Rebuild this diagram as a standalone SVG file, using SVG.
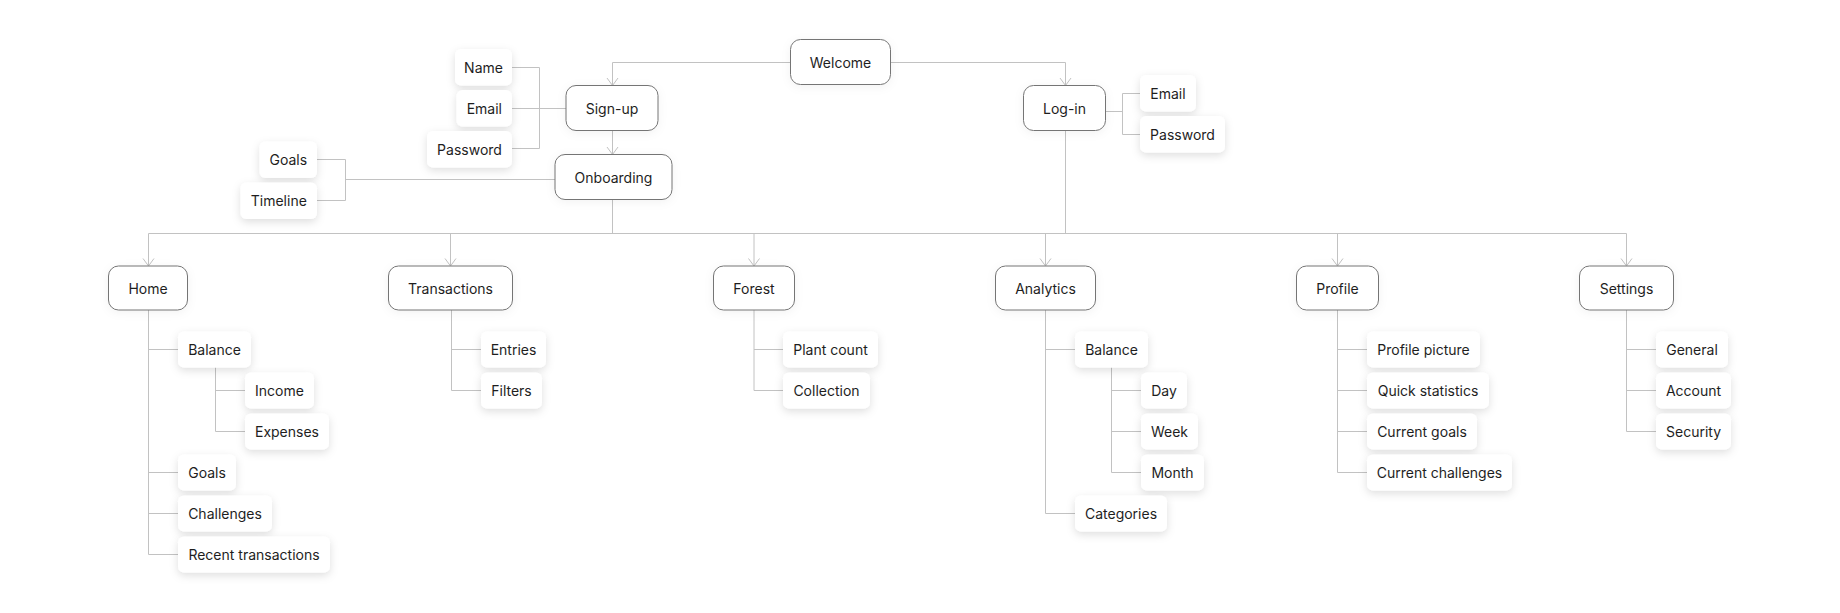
<svg xmlns="http://www.w3.org/2000/svg" width="1840" height="613" viewBox="0 0 1840 613">
<defs>
<style>
.main rect{fill:#fff;stroke:#757575;stroke-width:1}
.leaf rect{fill:#fff;stroke:none}
text{font-family:Inter,"Noto Sans","Liberation Sans",sans-serif;font-size:14px;fill:#1e1e1e;text-anchor:middle}
.main text{transform:translateY(1px)}
.leaf text{transform:translateY(0.7px)}
.conn path{fill:none;stroke:#c2c2c2;stroke-width:1}
</style>
<filter id="sh" x="-30%" y="-40%" width="160%" height="200%">
<feDropShadow dx="0" dy="3" stdDeviation="4" flood-color="#000" flood-opacity="0.13"/>
</filter>
<filter id="shm" x="-30%" y="-40%" width="160%" height="200%">
<feDropShadow dx="0" dy="2" stdDeviation="5" flood-color="#000" flood-opacity="0.05"/>
</filter>
<marker id="arr" markerUnits="userSpaceOnUse" viewBox="-9 -7 10 14" markerWidth="10" markerHeight="14" refX="0" refY="0" orient="auto">
<path d="M-7.5,-5.5 L0,0 L-7.5,5.5" fill="none" stroke="#c2c2c2" stroke-width="1"/>
</marker>
</defs>
<rect width="1840" height="613" fill="#fff"/>

<g id="connectors" class="conn">
<path d="M790,62.5 H612.5 V85.5" marker-end="url(#arr)"/>
<path d="M891,62.5 H1065.5 V85.5" marker-end="url(#arr)"/>
<path d="M612.5,130.5 V154.5" marker-end="url(#arr)"/>
<path d="M512,67.5 H539.5 V148.5 H512"/>
<path d="M512,108.5 H566"/>
<path d="M317,159.5 H345.5 V200.5 H317"/>
<path d="M345.5,179.5 H555"/>
<path d="M1105.5,111.5 H1122.5"/>
<path d="M1140,93.5 H1122.5 V134.5 H1140"/>
<path d="M612.5,199.5 V233.5"/>
<path d="M1065.5,130.5 V233.5"/>
<path d="M148.5,233.5 H1626.5"/>
<path d="M148.5,233.5 V266" marker-end="url(#arr)"/>
<path d="M450.5,233.5 V266" marker-end="url(#arr)"/>
<path d="M754,233.5 V266" marker-end="url(#arr)"/>
<path d="M1045.5,233.5 V266" marker-end="url(#arr)"/>
<path d="M1337.5,233.5 V266" marker-end="url(#arr)"/>
<path d="M1626.5,233.5 V266" marker-end="url(#arr)"/>
<path d="M148.5,310 V554.5 H178 M148.5,349.5 H178 M148.5,472.5 H178 M148.5,513.5 H178"/>
<path d="M215.5,367.5 V431.5 H245 M215.5,390.5 H245"/>
<path d="M451.5,310 V390.5 H481 M451.5,349.5 H481"/>
<path d="M754,310 V390.5 H783 M754,349.5 H783"/>
<path d="M1045.5,310 V513.5 H1075 M1045.5,349.5 H1075"/>
<path d="M1111.5,367.5 V472.5 H1141 M1111.5,390.5 H1141 M1111.5,431.5 H1141"/>
<path d="M1337.5,310 V472.5 H1367 M1337.5,349.5 H1367 M1337.5,390.5 H1367 M1337.5,431.5 H1367"/>
<path d="M1626.5,310 V431.5 H1656 M1626.5,349.5 H1656 M1626.5,390.5 H1656"/>
</g>

<g id="welcome" class="main"><rect x="790.5" y="39.5" width="100" height="45" rx="10" filter="url(#shm)"/><text x="840.5" y="67">Welcome</text></g>
<g id="signup" class="main"><rect x="566" y="85.5" width="92" height="45" rx="10" filter="url(#shm)"/><text x="612" y="113">Sign-up</text></g>
<g id="login" class="main"><rect x="1023.5" y="85.5" width="82" height="45" rx="10" filter="url(#shm)"/><text x="1064.5" y="113">Log-in</text></g>
<g id="onboarding" class="main"><rect x="555" y="154.5" width="117" height="45" rx="10" filter="url(#shm)"/><text x="613.5" y="182">Onboarding</text></g>

<g id="su-name" class="leaf"><rect x="455" y="49" width="57" height="36.5" rx="6" filter="url(#sh)"/><text x="483.5" y="72">Name</text></g>
<g id="su-email" class="leaf"><rect x="456.5" y="90" width="55.5" height="36.5" rx="6" filter="url(#sh)"/><text x="484.3" y="113">Email</text></g>
<g id="su-password" class="leaf"><rect x="427" y="131" width="85" height="36.5" rx="6" filter="url(#sh)"/><text x="469.5" y="154">Password</text></g>

<g id="ob-goals" class="leaf"><rect x="259.5" y="141.5" width="57.5" height="36.5" rx="6" filter="url(#sh)"/><text x="288.3" y="164.5">Goals</text></g>
<g id="ob-timeline" class="leaf"><rect x="240.5" y="182.5" width="76.5" height="36.5" rx="6" filter="url(#sh)"/><text x="278.8" y="205.5">Timeline</text></g>

<g id="li-email" class="leaf"><rect x="1140" y="75" width="56" height="36.5" rx="6" filter="url(#sh)"/><text x="1168" y="98">Email</text></g>
<g id="li-password" class="leaf"><rect x="1140" y="116" width="85" height="36.5" rx="6" filter="url(#sh)"/><text x="1182.5" y="139">Password</text></g>

<g id="home" class="main"><rect x="108.5" y="266" width="79" height="44" rx="10" filter="url(#shm)"/><text x="148" y="293">Home</text></g>
<g id="transactions" class="main"><rect x="388.5" y="266" width="124" height="44" rx="10" filter="url(#shm)"/><text x="450.5" y="293">Transactions</text></g>
<g id="forest" class="main"><rect x="713.5" y="266" width="81" height="44" rx="10" filter="url(#shm)"/><text x="754" y="293">Forest</text></g>
<g id="analytics" class="main"><rect x="995.5" y="266" width="100" height="44" rx="10" filter="url(#shm)"/><text x="1045.5" y="293">Analytics</text></g>
<g id="profile" class="main"><rect x="1296.5" y="266" width="82" height="44" rx="10" filter="url(#shm)"/><text x="1337.5" y="293">Profile</text></g>
<g id="settings" class="main"><rect x="1579.5" y="266" width="94" height="44" rx="10" filter="url(#shm)"/><text x="1626.5" y="293">Settings</text></g>

<g id="home-balance" class="leaf"><rect x="178" y="331.5" width="73" height="36" rx="6" filter="url(#sh)"/><text x="214.5" y="354.5">Balance</text></g>
<g id="home-income" class="leaf"><rect x="245" y="372.5" width="69" height="36" rx="6" filter="url(#sh)"/><text x="279.5" y="395.5">Income</text></g>
<g id="home-expenses" class="leaf"><rect x="245" y="413.5" width="84" height="36" rx="6" filter="url(#sh)"/><text x="287" y="436.5">Expenses</text></g>
<g id="home-goals" class="leaf"><rect x="178" y="454.5" width="58" height="36" rx="6" filter="url(#sh)"/><text x="207" y="477.5">Goals</text></g>
<g id="home-challenges" class="leaf"><rect x="178" y="495.5" width="94" height="36" rx="6" filter="url(#sh)"/><text x="225" y="518.5">Challenges</text></g>
<g id="home-recent" class="leaf"><rect x="178" y="536.5" width="152" height="36" rx="6" filter="url(#sh)"/><text x="254" y="559.5">Recent transactions</text></g>

<g id="tx-entries" class="leaf"><rect x="481" y="331.5" width="65" height="36" rx="6" filter="url(#sh)"/><text x="513.5" y="354.5">Entries</text></g>
<g id="tx-filters" class="leaf"><rect x="481" y="372.5" width="61" height="36" rx="6" filter="url(#sh)"/><text x="511.5" y="395.5">Filters</text></g>

<g id="fo-plant" class="leaf"><rect x="783" y="331.5" width="95" height="36" rx="6" filter="url(#sh)"/><text x="830.5" y="354.5">Plant count</text></g>
<g id="fo-collection" class="leaf"><rect x="783" y="372.5" width="87" height="36" rx="6" filter="url(#sh)"/><text x="826.5" y="395.5">Collection</text></g>

<g id="an-balance" class="leaf"><rect x="1075" y="331.5" width="73" height="36" rx="6" filter="url(#sh)"/><text x="1111.5" y="354.5">Balance</text></g>
<g id="an-day" class="leaf"><rect x="1141" y="372.5" width="46" height="36" rx="6" filter="url(#sh)"/><text x="1164" y="395.5">Day</text></g>
<g id="an-week" class="leaf"><rect x="1141" y="413.5" width="57" height="36" rx="6" filter="url(#sh)"/><text x="1169.5" y="436.5">Week</text></g>
<g id="an-month" class="leaf"><rect x="1141" y="454.5" width="63" height="36" rx="6" filter="url(#sh)"/><text x="1172.5" y="477.5">Month</text></g>
<g id="an-categories" class="leaf"><rect x="1075" y="495.5" width="92" height="36" rx="6" filter="url(#sh)"/><text x="1121" y="518.5">Categories</text></g>

<g id="pr-picture" class="leaf"><rect x="1367" y="331.5" width="113" height="36" rx="6" filter="url(#sh)"/><text x="1423.5" y="354.5">Profile picture</text></g>
<g id="pr-stats" class="leaf"><rect x="1367" y="372.5" width="122" height="36" rx="6" filter="url(#sh)"/><text x="1428" y="395.5">Quick statistics</text></g>
<g id="pr-goals" class="leaf"><rect x="1367" y="413.5" width="110" height="36" rx="6" filter="url(#sh)"/><text x="1422" y="436.5">Current goals</text></g>
<g id="pr-challenges" class="leaf"><rect x="1367" y="454.5" width="145" height="36" rx="6" filter="url(#sh)"/><text x="1439.5" y="477.5">Current challenges</text></g>

<g id="se-general" class="leaf"><rect x="1656" y="331.5" width="72" height="36" rx="6" filter="url(#sh)"/><text x="1692" y="354.5">General</text></g>
<g id="se-account" class="leaf"><rect x="1656" y="372.5" width="75" height="36" rx="6" filter="url(#sh)"/><text x="1693.5" y="395.5">Account</text></g>
<g id="se-security" class="leaf"><rect x="1656" y="413.5" width="75" height="36" rx="6" filter="url(#sh)"/><text x="1693.5" y="436.5">Security</text></g>
</svg>
